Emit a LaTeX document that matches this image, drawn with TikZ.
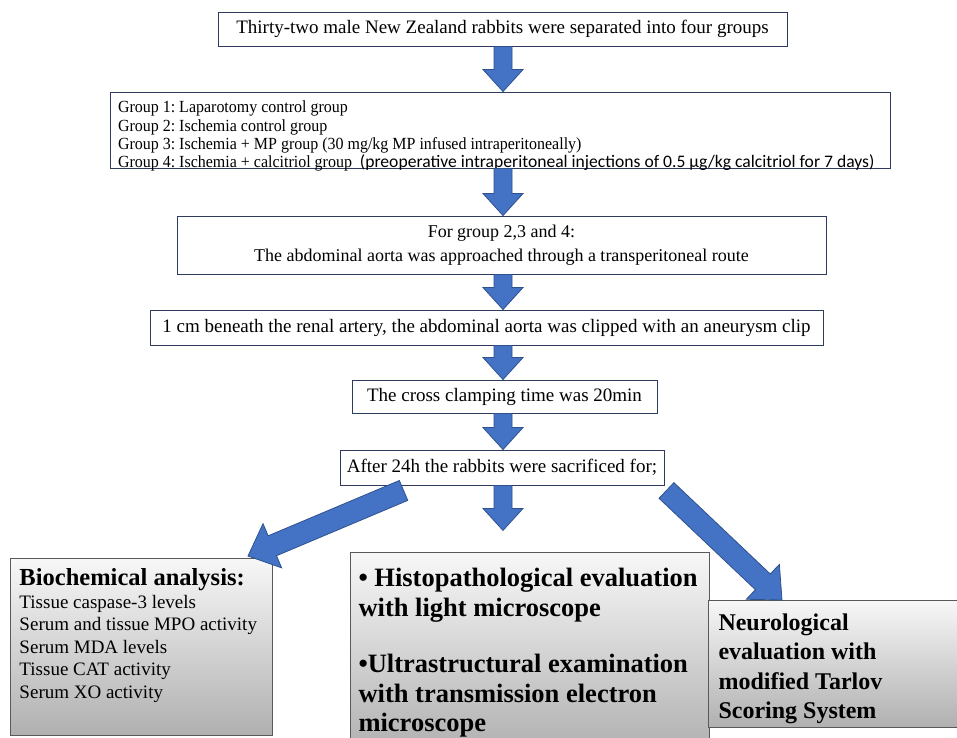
\documentclass[tikz,border=0pt]{standalone}
\usepackage{fontspec}
\setmainfont{Liberation Serif}
\newfontfamily\calibri{Carlito}
\newfontfamily\narrowserif[FakeStretch=0.94]{Liberation Serif}
\usetikzlibrary{calc,positioning}

\definecolor{arrowblue}{HTML}{4472C4}
\definecolor{arrowedge}{HTML}{2F528F}
\definecolor{boxedge}{HTML}{2F3B5C}
\definecolor{greyedge}{HTML}{595959}

\tikzset{
  stepbox/.style={draw=boxedge, line width=0.9pt, fill=white, inner sep=0pt,
    align=center, font=\fontsize{19}{24}\selectfont},
  resultbox/.style={draw=greyedge, line width=1pt, top color=gray!6,
    bottom color=gray!62, inner sep=0pt, anchor=north west},
  blockarrow/.style={fill=arrowblue, draw=arrowedge, line width=0.8pt, line join=miter},
}

% block arrow from #2 to #3, #1 = size factor
\newcommand{\blockarrow}[3][1]{%
  \draw[blockarrow] let \p1=(#2), \p2=(#3), \n1={atan2(\y2-\y1,\x2-\x1)} in
    ($(\p1)+(\n1+90:#1*9pt)$) -- ($(\p2)+(\n1+180:#1*22pt)+(\n1+90:#1*9pt)$)
    -- ($(\p2)+(\n1+180:#1*22pt)+(\n1+90:#1*20pt)$) -- (\p2)
    -- ($(\p2)+(\n1+180:#1*22pt)+(\n1-90:#1*20pt)$)
    -- ($(\p2)+(\n1+180:#1*22pt)+(\n1-90:#1*9pt)$)
    -- ($(\p1)+(\n1-90:#1*9pt)$) -- cycle;}

\begin{document}
\frenchspacing
\begin{tikzpicture}[x=1pt, y=-1pt]
    \clip (0,0) rectangle (957,737);
    \fill[white] (0,0) rectangle (957,737);

    % Steps
    \node[stepbox, minimum width=569pt, minimum height=34pt] (rabbits) at (502.5,29)
        {Thirty-two male New Zealand rabbits were separated into four groups};
    \node[stepbox] (groups) at (500,130)
        {\parbox[c][76pt][t]{780pt}{\raggedright\leftskip=8pt\narrowserif\fontsize{17}{18.2}\selectfont
         \vspace{9pt}Group 1: Laparotomy control group\\
         Group 2: Ischemia control group\\
         Group 3: Ischemia + MP group (30 mg/kg MP infused intraperitoneally)\\
         Group 4: Ischemia + calcitriol group\ \ {\calibri\fontsize{17.6}{18.2}\selectfont (preoperative intraperitoneal injections of 0.5 µg/kg calcitriol for 7 days)}}};
    \node[stepbox, font=\fontsize{18}{24}\selectfont, minimum width=649pt,
        minimum height=58pt] (route) at (501.5,245)
        {For group 2,3 and 4:\\The abdominal aorta was approached through a transperitoneal route};
    \node[stepbox, minimum width=673pt, minimum height=35pt] (clip) at (486.5,327.5)
        {1 cm beneath the renal artery, the abdominal aorta was clipped with an aneurysm clip};
    \node[stepbox, minimum width=305pt, minimum height=33pt] (clamp) at (504.5,396.5)
        {The cross clamping time was 20min};
    \node[stepbox, minimum width=324pt, minimum height=35pt] (after) at (502,467.5)
        {After 24h the rabbits were sacrificed for;};

    % Results
    \node[resultbox] (bio) at (10,558)
        {\parbox[c][177pt][t]{262pt}{\leftskip=9pt\fontsize{19}{22.5}\selectfont
         \vspace{10pt}{\fontsize{24.5}{22.5}\selectfont\bfseries Biochemical analysis:}\\
         Tissue caspase-3 levels\\
         Serum and tissue MPO activity\\
         Serum MDA levels\\
         Tissue CAT activity\\
         Serum XO activity}};
    \node[resultbox] (histo) at (350,552)
        {\parbox[c][200pt][t]{359pt}{\leftskip=8pt\fontsize{26.5}{29.5}\selectfont\bfseries
         \vspace{16pt}• Histopathological evaluation\\
         with light microscope\\[27pt]
         •Ultrastructural examination\\
         with transmission electron\\
         microscope}};
    \node[resultbox] (neuro) at (708,600)
        {\parbox[c][127pt][t]{260pt}{\leftskip=10pt\fontsize{24}{29.5}\selectfont\bfseries
         \vspace{13pt}Neurological\\
         evaluation with\\
         modified Tarlov\\
         Scoring System}};

    % Arrow ends
    \coordinate (axis) at (503,0);
    \coordinate (midtip) at ($(after.south)+(1,45)$);
    \coordinate (lefttail) at ($(after.south west)+(64,5)$);
    \coordinate (lefttip) at ($(bio.north east)+(-25,-2)$);
    \coordinate (righttail) at ($(after.south east)+(2,5)$);
    \coordinate (righttip) at ($(neuro.north west)+(74,0)$);

    % Arrows
    \blockarrow{axis |- rabbits.south}{axis |- groups.north}
    \blockarrow{axis |- groups.south}{axis |- route.north}
    \blockarrow{axis |- route.south}{axis |- clip.north}
    \blockarrow{axis |- clip.south}{axis |- clamp.north}
    \blockarrow{axis |- clamp.south}{axis |- after.north}
    \blockarrow[1.2]{lefttail}{lefttip}
    \blockarrow{axis |- after.south}{midtip}
    \blockarrow[1.2]{righttail}{righttip}
\end{tikzpicture}
\end{document}
